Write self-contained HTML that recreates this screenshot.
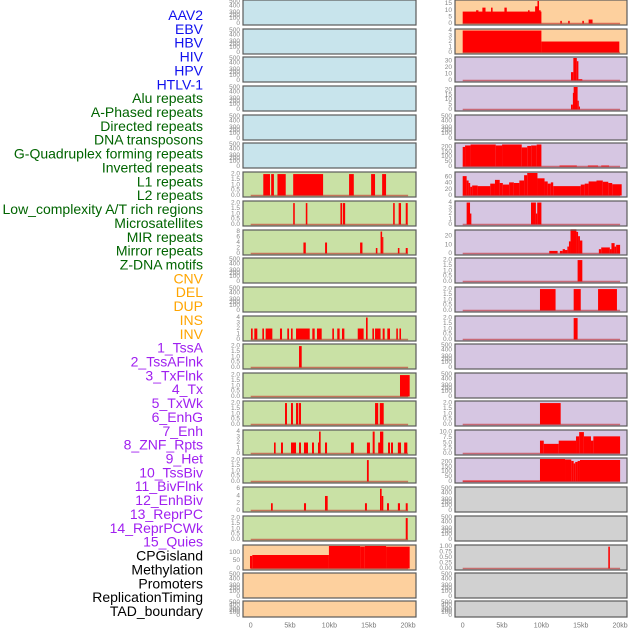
<!DOCTYPE html>
<html><head><meta charset="utf-8"><style>
html,body{margin:0;padding:0;background:#fff}
svg{display:block;font-family:"Liberation Sans",sans-serif}
</style></head><body>
<svg id="chart" width="630" height="630"></svg>
<script>
const trackLabels=["AAV2","EBV","HBV","HIV","HPV","HTLV-1","Alu repeats","A-Phased repeats","Directed repeats","DNA transposons","G-Quadruplex forming repeats","Inverted repeats","L1 repeats","L2 repeats","Low_complexity A/T rich regions","Microsatellites","MIR repeats","Mirror repeats","Z-DNA motifs","CNV","DEL","DUP","INS","INV","1_TssA","2_TssAFlnk","3_TxFlnk","4_Tx","5_TxWk","6_EnhG","7_Enh","8_ZNF_Rpts","9_Het","10_TssBiv","11_BivFlnk","12_EnhBiv","13_ReprPC","14_ReprPCWk","15_Quies","CPGisland","Methylation","Promoters","ReplicationTiming","TAD_boundary"];
const labelGroups=[6,13,5,15,5];
const groupColors=["#1010ee","#006400","#ffa500","#a020f0","#000000"];
const xTicks=[0,5,10,15,20];
const xTickLabels=["0","5kb","10kb","15kb","20kb"];
const panelTops=[0,29,57,86,115,143,172,201,230,258,287,316,344,373,401,430,458,487,516,545,573,601];
const leftBg=["b","b","b","b","b","b","g","g","g","g","g","g","g","g","g","g","g","g","g","p","p","p"];
const rightBg=["p","p","l","l","l","l","l","l","l","l","l","l","l","l","l","l","l","y","y","y","y","y"];
// y-axis max per panel (0 = empty panel)
const leftMax=[0,0,0,0,0,0,2.1,2.1,8.2,0,0,4.1,2.1,2.1,2.1,4.1,2.1,6.2,2.1,140,0,0];
const rightMax=[17,4.1,35,23,0,230,72,4.1,26,2.1,2.1,2.1,0,0,2.1,10.5,230,0,0,1.03,0,0];
const leftTicks=[[],[],[],[],[],[],[0,0.5,1,1.5,2],[0,0.5,1,1.5,2],[0,2,4,6,8],[],[],[0,1,2,3,4],[0,0.5,1,1.5,2],[0,0.5,1,1.5,2],[0,0.5,1,1.5,2],[0,1,2,3,4],[0,0.5,1,1.5,2],[0,2,4,6],[0,0.5,1,1.5,2],[0,50,100],[],[]];
const rightTicks=[[0,5,10,15],[0,1,2,3,4],[0,10,20,30],[0,5,10,15,20],[],[0,50,100,150,200],[0,20,40,60],[0,1,2,3,4],[0,10,20],[0,0.5,1,1.5,2],[0,0.5,1,1.5,2],[0,0.5,1,1.5,2],[],[],[0,0.5,1,1.5,2],[0,2.5,5,7.5,10],[0,50,100,150,200],[],[],[0,0.25,0.5,0.75,1],[],[]];
// bars: [startKb, endKb, value]
const L7=[[1.6,2.45,2],[2.6,2.95,2],[3.4,4.45,2],[5.4,9.2,2],[12.5,13.1,2],[15.3,15.8,2],[16.7,17.2,2]];
const L8=[[5.4,5.6,2],[7.0,7.2,2],[11.4,11.6,2],[11.7,12.0,2],[18.1,18.3,2],[18.8,19.1,2],[19.7,19.95,2]];
const L9=[[6.7,7.0,4],[9.45,9.7,4],[13.9,14.2,4],[15.9,16.1,2],[16.5,16.7,8],[16.7,16.85,6],[18.7,18.9,2],[19.7,19.95,2]];
const L12=[[0.04,0.25,2],[0.46,0.84,2],[1.48,1.69,2],[1.9,2.75,2],[3.72,3.98,2],[4.65,4.87,2],[5.12,5.33,2],[5.76,7.5,2],[7.83,8.13,2],[8.42,9.02,2],[10.37,10.58,2],[11.0,11.3,2],[11.6,11.9,2],[13.6,14.35,2],[14.65,14.86,4],[15.46,15.67,2],[15.8,16.5,2],[16.77,17.02,2],[17.36,17.7,2],[18.5,18.7,2],[18.9,19.1,2]];
const L13=[[6.14,6.48,2]];
const L14=[[18.97,20.2,2]];
const L15=[[4.36,4.61,2],[5.12,5.37,2],[5.76,6.05,2],[6.14,6.39,2],[15.8,16.2,2],[16.4,16.9,2]];
const L16=[[2.96,3.17,2],[3.85,4.1,2],[5.12,5.76,2],[6.14,6.39,2],[6.77,7.28,2],[7.79,8.04,2],[8.55,8.68,2],[8.68,8.89,4],[9.44,9.7,2],[12.74,13.1,2],[14.77,15.15,2],[15.5,15.75,4],[16.2,16.43,2],[16.43,16.85,4],[17.45,17.7,2],[17.83,18.08,2],[18.7,19.1,2],[19.5,19.9,2]];
const L17=[[14.77,15.0,2]];
const L18=[[2.58,2.8,2],[6.77,7.03,2],[9.44,9.78,4],[14.52,14.77,2],[16.43,16.64,6],[16.64,16.85,4],[17.32,17.57,2],[18.7,18.97,2],[19.7,19.95,2]];
const L19=[[19.7,19.95,2]];
const L20=[[-0.09,0.2,78],[0.2,9.94,84],[9.94,13.9,140],[13.9,14.5,137],[14.5,17.2,140],[17.2,20.2,136]];
const R1=[[0,10,9],[1.7,2.0,10],[2.5,2.9,12],[3.6,3.8,12],[5.3,5.6,12],[8.3,8.5,10],[9.2,9.6,13],[9.5,9.7,17],[9.7,9.9,10],[12.4,12.6,2],[13.4,13.6,2],[15.2,15.4,2],[16.0,16.5,3]];
const R2=[[0,10,4],[10,19.9,2]];
const R3=[[13.76,14.06,13],[14.06,14.5,35],[14.5,14.7,30],[14.7,15.2,2]];
const R4=[[13.76,14.0,5],[14.0,14.1,17],[14.1,14.6,23],[14.6,14.75,9],[14.75,14.9,3]];
const R6=[[0,0.3,200],[0.3,1,215],[1,4.2,225],[4.2,5,215],[5,7.5,225],[7.5,8.2,195],[8.2,8.7,210],[8.7,9.4,215],[9.4,10,225],[12.3,14.5,10],[15.9,17.2,10],[17.6,18.6,10]];
const R7=[[0,0.5,62],[0.5,0.75,48],[0.75,0.95,40],[0.95,1.2,28],[1.2,1.9,32],[1.9,3.5,30],[3.5,4.1,38],[4.1,4.7,50],[4.7,5.1,40],[5.1,5.9,35],[5.9,6.5,42],[6.5,7.2,40],[7.2,7.8,48],[7.8,8.2,65],[8.2,9.5,72],[9.5,10.4,55],[10.4,10.8,45],[10.8,11.2,38],[11.2,11.5,42],[11.5,15.0,30],[15.0,15.5,35],[15.5,16.0,38],[16.0,17.0,45],[17.0,17.8,48],[17.8,18.5,44],[18.5,19.0,40],[19.0,20.2,36]];
const R8=[[0.5,0.93,4],[0.93,1.1,2],[8.68,9.3,4],[9.3,9.47,2],[9.47,10.0,4]];
const R9=[[11.0,12.06,3],[12.35,12.7,3],[12.7,13.0,5],[13.0,13.3,4],[13.3,13.5,8],[13.5,13.7,14],[13.7,14.45,28],[14.45,14.66,25],[14.66,14.9,20],[14.9,15.2,15],[17.3,17.6,5],[17.6,18.7,7],[18.7,18.9,5],[18.9,19.3,12],[19.3,19.5,8],[19.5,20.0,10]];
const R10=[[14.6,15.2,2]];
const R11=[[9.82,11.8,2],[14.1,15.0,2],[17.2,19.6,2]];
const R12=[[14.1,14.6,2]];
const R15=[[9.82,12.45,2]];
const R16=[[9.82,10.3,6],[10.3,12.2,4.5],[12.2,14.4,6],[14.4,14.8,8],[14.8,15.4,10],[15.4,16.3,8],[16.3,16.6,6],[16.6,20.0,8]];
const R17=[[0,9.82,10],[9.82,13.0,230],[13.0,13.8,225],[13.8,14.1,210],[14.1,14.3,185],[14.3,14.6,200],[14.6,14.9,210],[14.9,20.0,220]];
const R20=[[18.5,18.7,1]];
const leftBars=[[],[],[],[],[],[],L7,L8,L9,[],[],L12,L13,L14,L15,L16,L17,L18,L19,L20,[],[]];
const rightBars=[R1,R2,R3,R4,[],R6,R7,R8,R9,R10,R11,R12,[],[],R15,R16,R17,[],[],R20,[],[]];

const NS="http://www.w3.org/2000/svg";
const svg=document.getElementById('chart');
const bgColors={b:"#c8e4ec",g:"#c9e1a5",p:"#fdd09e",l:"#d6c6e2",y:"#d1d1d1"};
const KB=7.87;
function mk(tag,attrs,parent){const e=document.createElementNS(NS,tag);for(const k in attrs)e.setAttribute(k,attrs[k]);(parent||svg).appendChild(e);return e;}
function fmt(v,ticks){const dec=ticks.some(t=>t%1!==0);if(!dec)return String(v);const d=ticks.some(t=>Math.abs(t*10-Math.round(t*10))>1e-6)?2:1;return v.toFixed(d);}

// labels
let idx=0;
labelGroups.forEach((n,g)=>{for(let i=0;i<n;i++){const t=mk('text',{x:203,y:15+idx*13.86,'text-anchor':'end','dominant-baseline':'central','font-size':'14',fill:groupColors[g]});


t.textContent=trackLabels[idx];idx++;}});

function drawPanel(side,r,x0,x1,origin,bgKey,ymax,ticks,bars){
  const top=panelTops[r];const h=(r===21)?16:25;
  const g=mk('g',{});
  
  
  mk('rect',{x:x0,y:top,width:x1-x0,height:h,fill:bgColors[bgKey]},g);
  const y0=top+h-1.5,y1=top+1;
  const ys=v=>y0-v/ymax*(y0-y1);
  const xs=k=>Math.max(x0,Math.min(x1,origin+k*KB));
  if(ymax>0){
    bars.forEach(b=>{const xa=xs(b[0]),xb=xs(b[1]),yy=ys(b[2]);
      const rc=mk('rect',{x:xa,y:yy,width:Math.max(1.2,xb-xa),height:y0-yy,fill:"#ff0000"},g);
      
      });
    mk('line',{x1:xs(0),x2:xs(20),y1:y0,y2:y0,stroke:"rgba(190,30,30,0.55)","stroke-width":1.5},g);
    ticks.forEach(t=>{const tx=mk('text',{x:x0-3,y:ys(t),'text-anchor':'end','dominant-baseline':'central','font-size':'6.5',fill:"#888"},g);
      
      
      tx.textContent=fmt(t,ticks);});
  } else {
    const fr=[0,0.22,0.36,0.5,0.78,0.98];const lb=["0","100","200","300","400","500"];
    fr.forEach((f,i)=>{const tx=mk('text',{x:x0-3,y:y0-f*(y0-y1),'text-anchor':'end','dominant-baseline':'central','font-size':'6.5',fill:"#888"},g);
      
      
      tx.textContent=lb[i];});
  }
  mk('rect',{x:x0,y:top,width:x1-x0,height:h,fill:"none",stroke:"#5a5a5a","stroke-width":1.2},g);
}
for(let r=0;r<22;r++){
  drawPanel('left',r,243,416,250.7,leftBg[r],leftMax[r],leftTicks[r],leftBars[r]);
  drawPanel('right',r,455,627,462.7,rightBg[r],rightMax[r],rightTicks[r],rightBars[r]);
}
[[250.7],[462.7]].forEach((o,j)=>{xTicks.forEach((k,i)=>{const t=mk('text',{x:o[0]+k*KB,y:626,'text-anchor':'middle','dominant-baseline':'central','font-size':'7',fill:"#777"});
  
  
  t.textContent=xTickLabels[i];});});
</script>
</body></html>
